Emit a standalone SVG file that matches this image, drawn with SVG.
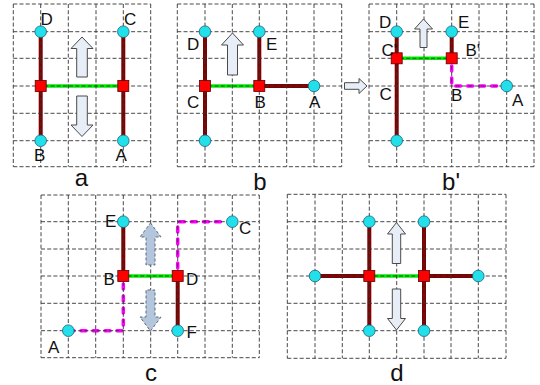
<svg xmlns="http://www.w3.org/2000/svg" width="540" height="385" viewBox="0 0 540 385">
<style>
.grid{fill:none;stroke:#333333;stroke-width:0.9;stroke-dasharray:4,2.2}
.br{stroke:#800000;stroke-width:4;fill:none}
.gr{stroke:#00ee00;stroke-width:3.5;fill:none}
.mg{stroke:#ff00ff;stroke-width:3.5;fill:none;stroke-dasharray:5,7;stroke-linecap:round}
.cir{fill:#22e0ea;stroke:#16607a;stroke-width:0.8}
.sq{fill:#ff0000;stroke:#5a0000;stroke-width:0.8}
.arr{fill:#e8eef7;stroke:#4a4a4a;stroke-width:1}
.arrd{fill:#b4c6dc;stroke:#5a6a80;stroke-width:1;stroke-dasharray:3,2}
.lb{font-family:"Liberation Sans",Arial,sans-serif;font-size:17px;fill:#111}
.pl{font-family:"Liberation Sans",Arial,sans-serif;font-size:24px;fill:#111;text-anchor:middle}
</style>
<rect width="540" height="385" fill="#ffffff"/>

<g id="connectors">
  <!-- panel a -->
  <path class="br" d="M40.7 31.7V140.7M123.3 31.7V140.7"/>
  <path class="gr" d="M40.7 86H123.3"/>
  <!-- panel b -->
  <path class="br" d="M205 31.7V140.7M259.3 31.7V86H314"/>
  <path class="gr" d="M205 86H259.3"/>
  <!-- panel b' -->
  <path class="br" d="M396.7 31.7V140.7M451.7 31.7V58.3"/>
  <path class="gr" d="M396.7 58.3H451.7"/>
  <path class="mg" d="M451.7 66V86H501"/>
  <!-- panel c -->
  <path class="br" d="M123.3 221.7V276M177.7 276V330.7"/>
  <path class="gr" d="M123.3 276H177.7"/>
  <path class="mg" d="M123.3 284V330.7H74M177.7 268V221.7H226"/>
  <!-- panel d -->
  <path class="br" d="M369.3 221.7V330.7M424 221.7V330.7M315 276H369.3M424 276H478.3"/>
  <path class="gr" d="M369.3 276H424"/>
</g>

<g id="grids">
  <path class="grid" d="M13.3 4H150.7M13.3 31.7H150.7M13.3 58.3H150.7M13.3 86H150.7M13.3 113.3H150.7M13.3 140.7H150.7M13.3 166.7H150.7M13.3 4V166.7M40.7 4V166.7M68.3 4V166.7M96 4V166.7M123.3 4V166.7M150.7 4V166.7"/>
  <path class="grid" d="M177.3 4H341.7M177.3 31.7H341.7M177.3 58.3H341.7M177.3 86H341.7M177.3 113.3H341.7M177.3 140.7H341.7M177.3 166.7H341.7M177.3 4V166.7M205 4V166.7M232.3 4V166.7M259.3 4V166.7M286.7 4V166.7M314 4V166.7M341.7 4V166.7"/>
  <path class="grid" d="M369 4H534M369 31.7H534M369 58.3H534M369 86H534M369 113.3H534M369 140.7H534M369 166.7H534M369 4V166.7M396.7 4V166.7M424 4V166.7M451.7 4V166.7M479 4V166.7M506.7 4V166.7M534 4V166.7"/>
  <path class="grid" d="M41 195H259.3M41 221.7H259.3M41 249H259.3M41 276H259.3M41 303.3H259.3M41 330.7H259.3M41 357.7H259.3M41 195V357.7M68.3 195V357.7M95.7 195V357.7M123.3 195V357.7M150.7 195V357.7M177.7 195V357.7M205 195V357.7M232.3 195V357.7M259.3 195V357.7"/>
  <path class="grid" d="M287.3 194.3H506M287.3 221.7H506M287.3 249H506M287.3 276H506M287.3 303.3H506M287.3 330.7H506M287.3 358.3H506M287.3 194.3V358.3M315 194.3V358.3M342.3 194.3V358.3M369.3 194.3V358.3M396.7 194.3V358.3M424 194.3V358.3M451 194.3V358.3M478.3 194.3V358.3M506 194.3V358.3"/>
</g>

<g id="arrows">
  <path class="arr" d="M82 37L93 48.5H87.3V77H76.7V48.5H71Z"/>
  <path class="arr" d="M82 136.5L93 125H87.3V96H76.7V125H71Z"/>
  <path class="arr" d="M232.5 33L243.5 45H237.5V75H227.5V45H221.5Z"/>
  <path class="arr" d="M423.5 19L432.5 29H427V47.5H420V29H414.5Z"/>
  <path class="arr" d="M367 86L359 78.5V82.7H344.5V89.3H359V93.5Z"/>
  <path class="arrd" d="M150.5 223L161 237H155V265H146V237H140Z"/>
  <path class="arrd" d="M150.5 331L161 317H155V290H146V317H140Z"/>
  <path class="arr" d="M396.5 222.5L405.5 234H400.7V263.5H392.3V234H387.5Z"/>
  <path class="arr" d="M396.5 330L405.5 318.5H400.7V289H392.3V318.5H387.5Z"/>
</g>

<g id="node-a-D"><circle class="cir" cx="40.7" cy="31.7" r="5.8"/><text class="lb" x="40.5" y="25">D</text></g>
<g id="node-a-C"><circle class="cir" cx="123.3" cy="31.7" r="5.8"/><text class="lb" x="124" y="25">C</text></g>
<g id="node-a-B"><circle class="cir" cx="40.7" cy="140.7" r="5.8"/><text class="lb" x="34" y="160.5">B</text></g>
<g id="node-a-A"><circle class="cir" cx="123.3" cy="140.7" r="5.8"/><text class="lb" x="115.5" y="160.5">A</text></g>
<g id="node-a-L"><rect class="sq" x="35.2" y="80.5" width="11" height="11"/></g>
<g id="node-a-R"><rect class="sq" x="117.8" y="80.5" width="11" height="11"/></g>

<g id="node-b-D"><circle class="cir" cx="205" cy="31.7" r="5.8"/><text class="lb" x="187" y="49.5">D</text></g>
<g id="node-b-E"><circle class="cir" cx="259.3" cy="31.7" r="5.8"/><text class="lb" x="266" y="49.5">E</text></g>
<g id="node-b-A"><circle class="cir" cx="314" cy="86" r="5.8"/><text class="lb" x="309" y="107.5">A</text></g>
<g id="node-b-F"><circle class="cir" cx="205" cy="140.7" r="5.8"/></g>
<g id="node-b-C"><rect class="sq" x="199.5" y="80.5" width="11" height="11"/><text class="lb" x="187" y="107.5">C</text></g>
<g id="node-b-B"><rect class="sq" x="253.8" y="80.5" width="11" height="11"/><text class="lb" x="254.5" y="107.5">B</text></g>

<g id="node-b2-D"><circle class="cir" cx="396.7" cy="31.7" r="5.8"/><text class="lb" x="379" y="27.5">D</text></g>
<g id="node-b2-E"><circle class="cir" cx="451.7" cy="31.7" r="5.8"/><text class="lb" x="458" y="27.5">E</text></g>
<g id="node-b2-A"><circle class="cir" cx="506.7" cy="86" r="5.8"/><text class="lb" x="512" y="106">A</text></g>
<g id="node-b2-F"><circle class="cir" cx="396.7" cy="140.7" r="5.8"/></g>
<g id="node-b2-C1"><rect class="sq" x="391.2" y="52.8" width="11" height="11"/><text class="lb" x="381.5" y="55.5">C'</text></g>
<g id="node-b2-B1"><rect class="sq" x="446.2" y="52.8" width="11" height="11"/><text class="lb" x="465.5" y="56">B'</text></g>
<g id="node-b2-C"><text class="lb" x="379.5" y="99.5">C</text></g>
<g id="node-b2-B"><text class="lb" x="451" y="100.5">B</text></g>

<g id="node-c-E"><circle class="cir" cx="123.3" cy="221.7" r="5.8"/><text class="lb" x="105" y="227">E</text></g>
<g id="node-c-C"><circle class="cir" cx="232.3" cy="221.7" r="5.8"/><text class="lb" x="239" y="234">C</text></g>
<g id="node-c-A"><circle class="cir" cx="68.3" cy="330.7" r="5.8"/><text class="lb" x="48" y="352.5">A</text></g>
<g id="node-c-F"><circle class="cir" cx="177.7" cy="330.7" r="5.8"/><text class="lb" x="186.5" y="337.5">F</text></g>
<g id="node-c-B"><rect class="sq" x="117.8" y="270.5" width="11" height="11"/><text class="lb" x="103.5" y="284.5">B</text></g>
<g id="node-c-D"><rect class="sq" x="172.2" y="270.5" width="11" height="11"/><text class="lb" x="186" y="284.5">D</text></g>

<g id="node-d-1"><circle class="cir" cx="369.3" cy="221.7" r="5.8"/></g>
<g id="node-d-2"><circle class="cir" cx="424" cy="221.7" r="5.8"/></g>
<g id="node-d-3"><circle class="cir" cx="315" cy="276" r="5.8"/></g>
<g id="node-d-4"><circle class="cir" cx="478.3" cy="276" r="5.8"/></g>
<g id="node-d-5"><circle class="cir" cx="369.3" cy="330.7" r="5.8"/></g>
<g id="node-d-6"><circle class="cir" cx="424" cy="330.7" r="5.8"/></g>
<g id="node-d-L"><rect class="sq" x="363.8" y="270.5" width="11" height="11"/></g>
<g id="node-d-R"><rect class="sq" x="418.5" y="270.5" width="11" height="11"/></g>

<g id="panel-labels">
  <text class="pl" x="81.5" y="186">a</text>
  <text class="pl" x="260" y="189.5">b</text>
  <text class="pl" x="451" y="189.5">b'</text>
  <text class="pl" x="151" y="381">c</text>
  <text class="pl" x="397" y="381">d</text>
</g>
</svg>
